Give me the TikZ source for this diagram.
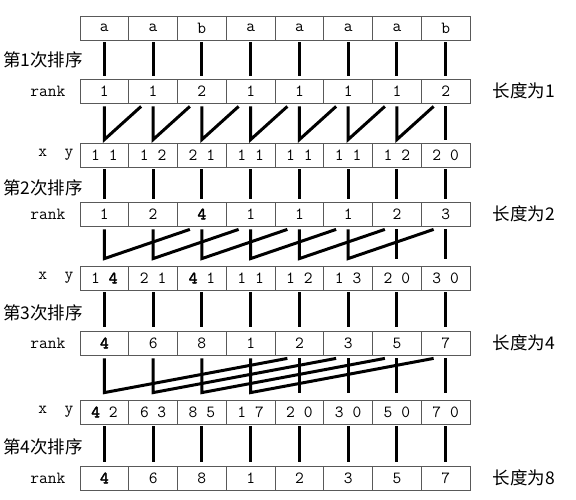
\documentclass[tikz,border=0pt]{standalone}
\usepackage{fontspec}
\newfontfamily\cjk{Noto Sans CJK SC}
\newfontfamily\heavytt{Latin Modern Mono}[FakeBold=2.5]
\newcommand\hv[1]{{\heavytt #1}}
\usetikzlibrary{positioning,calc}

\begin{document}
\begin{tikzpicture}[
  x=1pt, y=-1pt,
  cell/.style={draw=black!65, line width=0.8pt, minimum width=48.75pt, minimum height=24pt, inner sep=0pt, font=\ttfamily\fontsize{17}{19}\selectfont},
  link/.style={line width=3pt},
  tag/.style={anchor=east, inner sep=0pt, font=\ttfamily\fontsize{17}{19}\selectfont},
  pass/.style={inner sep=0pt, font=\cjk\fontsize{17.5}{20}\selectfont},
  len/.style={anchor=west, inner sep=0pt, font=\cjk\fontsize{17.5}{20}\selectfont}
]
\useasboundingbox (0,0) rectangle (576,500);

% Rows of cells
\foreach \row/\top/\vals in {
    word/16/{a,a,b,a,a,a,a,b},
    r1/79/{1,1,2,1,1,1,1,2},
    p1/143/{1 1,1 2,2 1,1 1,1 1,1 1,1 2,2 0},
    r2/202/{1,2,\hv{4},1,1,1,2,3},
    p2/266/{1 \hv{4},2 1,\hv{4} 1,1 1,1 2,1 3,2 0,3 0},
    r3/331/{\hv{4},6,8,1,2,3,5,7},
    p3/400/{\hv{4} 2,6 3,8 5,1 7,2 0,3 0,5 0,7 0},
    r4/466/{\hv{4},6,8,1,2,3,5,7}}
  \foreach \v [count=\i] in \vals
    \node[cell] (\row-\i) at ({80+48.75*(\i-0.5)},{\top+12}) {\v};

% Left labels
\node[pass] (pass1) at (43,60) {第1次排序};
\node[pass] (pass2) at (43,188) {第2次排序};
\node[pass] (pass3) at (43,313) {第3次排序};
\node[pass] (pass4) at (43,447) {第4次排序};
\foreach \r in {r1,r2,r3,r4}
  \node[tag] (\r-tag) at ($(\r-1.west)+(-14,0)$) {rank};
\foreach \p in {p1,p2,p3}
  \node[tag] (\p-tag) at ($(\p-1.west)+(-6,0)$) {x\ \ y};

% Right labels
\node[len] (len1) at ($(r1-8.east)+(22,0)$) {长度为1};
\node[len] (len2) at ($(r2-8.east)+(22,0)$) {长度为2};
\node[len] (len4) at ($(r3-8.east)+(22,0)$) {长度为4};
\node[len] (len8) at ($(r4-8.east)+(22,0)$) {长度为8};

% Straight links
\foreach \a/\b/\g in {word/r1/3, p1/r2/3, p2/r3/4, p3/r4/4}
  \foreach \i in {1,...,8}
    \draw[link] ([yshift=-2pt]\a-\i.south) -- ([yshift=\g pt]\b-\i.north);

% Merge links (first key down, second key from the right)
\foreach \d/\r/\p/\g in {1/r1/p1/3, 2/r2/p2/7, 4/r3/p3/7}{
  \foreach \i in {1,...,8}
    \coordinate (\p-bot-\i) at ([yshift=\g pt]\p-\i.north);
  \pgfmathtruncatemacro\last{8-\d}
  \pgfmathtruncatemacro\first{9-\d}
  \foreach \i in {1,...,\last}{
    \pgfmathtruncatemacro\j{\i+\d}
    \draw[link] ([yshift=-3pt]\r-\i.south) -- (\p-bot-\i)
      -- ([xshift=-12pt,yshift=-3pt]\r-\j.south);
  }
  \foreach \i in {\first,...,8}
    \draw[link] ([yshift=-3pt]\r-\i.south) -- (\p-bot-\i);
}

\end{tikzpicture}
\end{document}
